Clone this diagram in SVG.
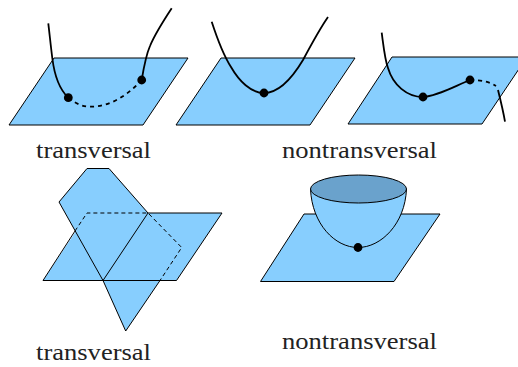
<svg xmlns="http://www.w3.org/2000/svg" width="518" height="367" viewBox="0 0 518 367">
<style>
.sheet{fill:#87cefe;stroke:#000;stroke-width:1;stroke-linejoin:round}
.fill{fill:#87cefe}
.edge{fill:none;stroke:#000;stroke-width:1}
.dash{fill:none;stroke:#000;stroke-width:1;stroke-dasharray:4 3}
.curve{fill:none;stroke:#000;stroke-width:1.8}
.curved{fill:none;stroke:#000;stroke-width:1.8;stroke-dasharray:4 4}
.dot{fill:#000}
text{font-family:"Liberation Serif","Times New Roman",serif;font-size:23.500px;fill:#222}
</style>
<g id="plane1"><path class="sheet" d="M9 125H143L188 58H54Z"/></g>
<g id="plane2"><path class="sheet" d="M176 125H310L355 58H221Z"/></g>
<g id="plane3"><path class="sheet" d="M348 124H482L527 57H392Z"/></g>
<g id="plane4">
<path class="fill" d="M43 280.500H176.500L222 213H88Z"/>
<path class="fill" d="M59 202L87 168.500H109L148 213L181.700 247.500L160 280.500L125.700 331L103 280.500Z"/>
<path class="edge" d="M59 202L87 168.500H109L148 213H222L176.500 280.500H43L75 231"/>
<path class="edge" d="M59 202L103 280.500L125.700 331L160 280.500"/>
<path class="edge" d="M103 280.500L148 213"/>
<path class="dash" d="M75 231L87 213H148L181.700 247.500L160 280.500"/>
</g>
<g id="plane5"><path class="sheet" d="M260.500 281.500H394L440 214H304Z"/></g>
<g id="bowl">
<path class="sheet" d="M310.500 189C312 224 335 247.500 358 247.500C381 247.500 405 224 406.500 189Z"/>
<ellipse cx="358.500" cy="189" rx="48" ry="14" fill="#6aa2cc" stroke="#000" stroke-width="1"/>
<circle class="dot" cx="358" cy="247.500" r="4.400"/>
</g>
<g id="connectors">
<path class="curve" d="M48.300 23.300C50 38 51 48 52.300 58C54 72 58 88 68.300 97.700"/>
<path class="curved" d="M68.300 97.700C76 104 83 106.700 90 106.700C110 107 128 95 141.700 80"/>
<path class="curve" d="M141.700 80C144 66 146 55 150 46C155 34 164 20 171.700 8.300"/>
<path class="curve" d="M211.700 21.700C218 41 224 56 231 67C239 81 251 93 264 93C278 93 291 80 303 60C311 45 319 30 328 17"/>
<path class="curve" d="M381.700 32.700C384 50 385 60 388 68C393 85 407 97 423 97C438 96 455 86 470 80"/>
<path class="curved" d="M470 80C482 80 490 82 496 86"/>
<path class="curve" d="M498 90C501 102 503 110 505 121.700"/>
</g>
<g id="points">
<circle class="dot" cx="68.300" cy="97.700" r="4.400"/>
<circle class="dot" cx="141.700" cy="80" r="4.400"/>
<circle class="dot" cx="264" cy="93" r="4.400"/>
<circle class="dot" cx="423" cy="97" r="4.400"/>
<circle class="dot" cx="470" cy="80" r="4.400"/>
</g>
<g id="labels">
<text x="36" y="158" textLength="115" lengthAdjust="spacingAndGlyphs">transversal</text>
<text x="282" y="158" textLength="155" lengthAdjust="spacingAndGlyphs">nontransversal</text>
<text x="36" y="360" textLength="115" lengthAdjust="spacingAndGlyphs">transversal</text>
<text x="282" y="349" textLength="155" lengthAdjust="spacingAndGlyphs">nontransversal</text>
</g>
</svg>
